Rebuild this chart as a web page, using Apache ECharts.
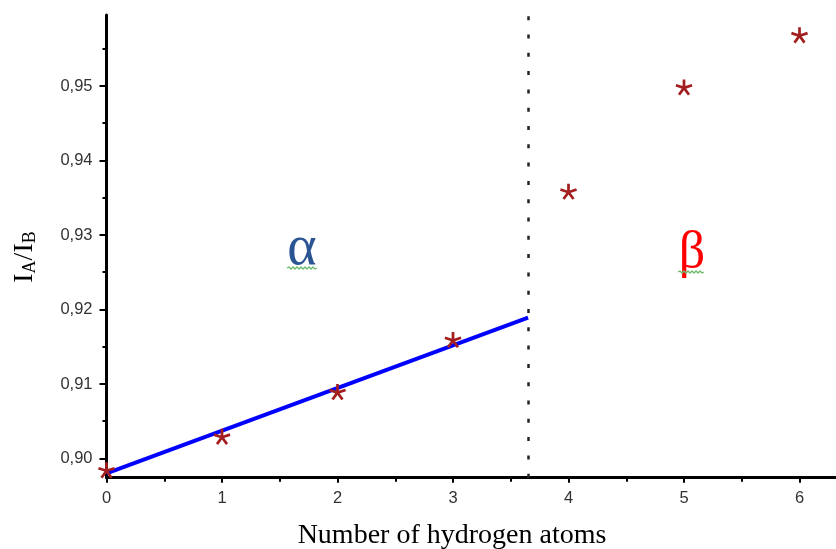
<!DOCTYPE html>
<html>
<head>
<meta charset="utf-8">
<script src="https://cdn.jsdelivr.net/npm/echarts@6/dist/echarts.min.js"></script>
<style>
  html, body { margin: 0; padding: 0; background: #fff; }
  #main { width: 836px; height: 549px; }
</style>
</head>
<body>
<div id="main"></div>
<script>
// measured values
var hydrogenAtoms = [0, 1, 2, 3, 4, 5, 6];
var ratioValues = [0.8984, 0.9029, 0.9089, 0.9159, 0.9358, 0.9498, 0.9568];

// linear fit of the alpha region
var fitX = [0, 3.65];
var fitY = [0.8980, 0.9189];

// alpha / beta boundary
var boundaryX = 3.65;

var xTicks = [0, 1, 2, 3, 4, 5, 6];
var xMinorTicks = [0.5, 1.5, 2.5, 3.5, 4.5, 5.5];
var yTicks = [0.90, 0.91, 0.92, 0.93, 0.94, 0.95];
var yMinorTicks = [0.905, 0.915, 0.925, 0.935, 0.945, 0.955];

var xMin = 0, xMax = 6.316;
var yMin = 0.89742, yMax = 0.95953;

// 5 armed asterisk symbol
function starPath() {
    var p = '';
    for (var i = 0; i < 5; i++) {
        var a = -Math.PI / 2 + i * 2 * Math.PI / 5;
        var dx = Math.cos(a), dy = Math.sin(a);
        var px = -dy * 0.16, py = dx * 0.16;
        p += 'M' + (px) + ' ' + (py) +
            'L' + (dx + px) + ' ' + (dy + py) +
            'L' + (dx - px) + ' ' + (dy - py) +
            'L' + (-px) + ' ' + (-py) + 'Z';
    }
    return 'path://' + p;
}

var points = hydrogenAtoms.map(function (x, i) { return [x, ratioValues[i]]; });
var fitLine = fitX.map(function (x, i) { return [x, fitY[i]]; });

function fmt(v) { return v.toFixed(2).replace('.', ','); }

var axisLineStyle = { color: '#000', width: 3 };
var labelStyle = { color: '#333', fontFamily: 'Liberation Sans', fontSize: 16.5 };

var option = {
    animation: false,
    grid: { left: 106.5, right: 0, top: 15, bottom: 71.3 },
    xAxis: [
        {
            type: 'value', min: xMin, max: xMax,
            axisLine: { lineStyle: axisLineStyle },
            axisTick: { show: true, length: 5, customValues: xTicks, lineStyle: { color: '#000', width: 2 } },
            axisLabel: Object.assign({ customValues: xTicks, margin: 12 }, labelStyle),
            splitLine: { show: false }
        },
        {
            type: 'value', min: xMin, max: xMax, position: 'bottom',
            axisLine: { show: false },
            axisTick: { show: true, length: 4, customValues: xMinorTicks, lineStyle: { color: '#000', width: 2 } },
            axisLabel: { show: false },
            splitLine: { show: false }
        }
    ],
    yAxis: [
        {
            type: 'value', min: yMin, max: yMax,
            axisLine: { show: true, lineStyle: axisLineStyle },
            axisTick: { show: true, length: 7, customValues: yTicks, lineStyle: { color: '#000', width: 2 } },
            axisLabel: Object.assign({ customValues: yTicks, margin: 14, formatter: fmt }, labelStyle),
            splitLine: { show: false }
        },
        {
            type: 'value', min: yMin, max: yMax, position: 'left',
            axisLine: { show: false },
            axisTick: { show: true, length: 4, customValues: yMinorTicks, lineStyle: { color: '#000', width: 2 } },
            axisLabel: { show: false },
            splitLine: { show: false }
        }
    ],
    series: [
        {
            type: 'line',
            data: fitLine,
            symbol: 'none',
            lineStyle: { color: '#0000ff', width: 4 },
            z: 2,
            markLine: {
                silent: true,
                symbol: 'none',
                label: { show: false },
                lineStyle: { color: '#222', width: 2.5, type: [4, 14.3] },
                data: [{ xAxis: boundaryX }]
            }
        },
        {
            type: 'scatter',
            data: points,
            symbol: starPath(),
            symbolSize: 17,
            symbolKeepAspect: true,
            itemStyle: { color: '#a31f1f', opacity: 1 },
            z: 3
        }
    ],
    graphic: [
        {
            type: 'text', x: 25, y: 257, rotation: Math.PI / 2,
            style: {
                text: '{b|I}{s|A}{b|/I}{s|B}',
                align: 'center', verticalAlign: 'middle',
                rich: {
                    b: { fontFamily: 'Liberation Serif', fontSize: 28, fill: '#000', lineHeight: 28 },
                    s: { fontFamily: 'Liberation Serif', fontSize: 18, fill: '#000', verticalAlign: 'bottom', lineHeight: 18 }
                }
            }
        },
        {
            type: 'text', x: 452, y: 536,
            style: {
                text: 'Number of hydrogen atoms',
                align: 'center', verticalAlign: 'middle',
                fontFamily: 'Liberation Serif', fontSize: 28, fill: '#000'
            }
        },
        {
            type: 'text', x: 302, y: 249,
            style: {
                text: 'α', align: 'center', verticalAlign: 'middle',
                fontFamily: 'Liberation Serif', fontSize: 56, fill: '#2a5592'
            }
        },
        {
            type: 'text', x: 692, y: 253,
            style: {
                text: 'β', align: 'center', verticalAlign: 'middle',
                fontFamily: 'Liberation Serif', fontSize: 52, fill: '#ff0000'
            }
        },
        {
            type: 'polyline',
            shape: { points: [[287, 268], [289, 267], [291, 269], [293, 267], [295, 269], [297, 267], [299, 269], [301, 267], [303, 269], [305, 267], [307, 269], [309, 267], [311, 269], [313, 267], [315, 269], [317, 268]] },
            style: { stroke: '#6dbb6d', lineWidth: 1.3, fill: null }
        },
        {
            type: 'polyline',
            shape: { points: [[678, 272], [680, 271], [682, 273], [684, 271], [686, 273], [688, 271], [690, 273], [692, 271], [694, 273], [696, 271], [698, 273], [700, 271], [702, 273], [704, 272]] },
            style: { stroke: '#6dbb6d', lineWidth: 1.3, fill: null }
        }
    ]
};

var myChart = echarts.init(document.getElementById('main'));
myChart.setOption(option);
</script>
</body>
</html>
